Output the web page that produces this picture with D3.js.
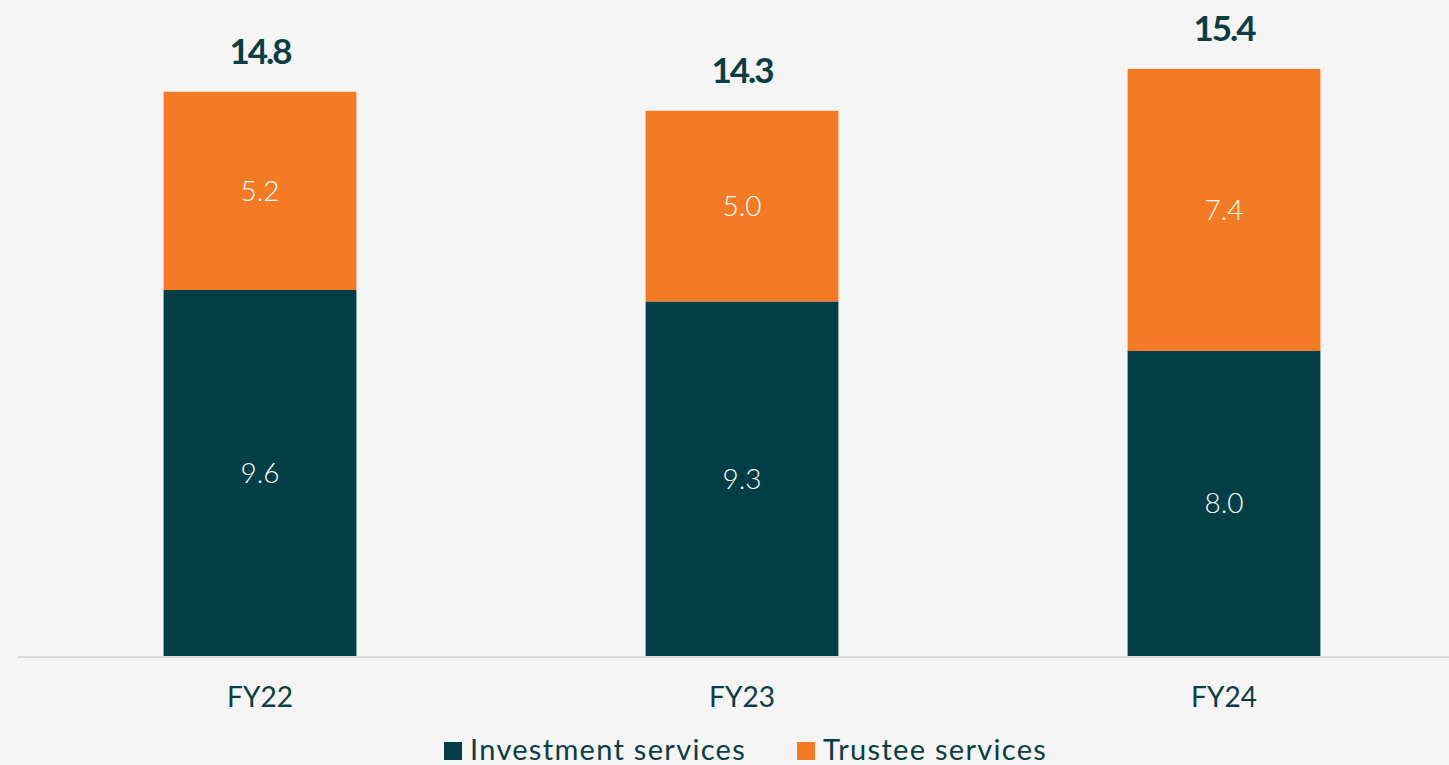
<!DOCTYPE html>
<html>
<head>
<meta charset="utf-8">
<script src="https://cdn.jsdelivr.net/npm/d3@7"></script>
<style>
  html, body { margin: 0; padding: 0; background: #f5f5f5; }
  svg { display: block; font-family: Lato, "Noto Sans", sans-serif; }
</style>
</head>
<body>
<svg id="chart" width="1449" height="765"></svg>
<script>
const categories = ["FY22", "FY23", "FY24"];
const seriesNames = ["Investment services", "Trustee services"];
const investment = [9.6, 9.3, 8.0];
const trustee = [5.2, 5.0, 7.4];
const totals = [14.8, 14.3, 15.4];
const colors = ["#023e46", "#f57a25"];

const svg = d3.select("#chart");
const W = 1449, H = 765;
svg.append("rect").attr("width", W).attr("height", H).attr("fill", "#f5f5f5");

const x = d3.scaleBand().domain(categories).range([19, 1465]).paddingInner(0.6).paddingOuter(0.3);
const y = d3.scaleLinear().domain([0, 16]).range([656, 46]);

const rows = categories.map((c, i) => ({ cat: c, "Investment services": investment[i], "Trustee services": trustee[i], total: totals[i] }));
const stacked = d3.stack().keys(seriesNames)(rows);

const g = svg.append("g");
stacked.forEach((layer, li) => {
  g.selectAll(null).data(layer).enter().append("rect")
    .attr("x", d => x(d.data.cat))
    .attr("width", x.bandwidth())
    .attr("y", d => y(d[1]))
    .attr("height", d => y(d[0]) - y(d[1]))
    .attr("fill", colors[li]);
  g.selectAll(null).data(layer).enter().append("text")
    .attr("x", d => x(d.data.cat) + x.bandwidth() / 2)
    .attr("y", d => (y(d[0]) + y(d[1])) / 2)
    .attr("dy", "0.35em")
    .attr("text-anchor", "middle")
    .attr("fill", "#ffffff")
    .attr("font-size", 28)
    .attr("font-weight", 300)
    .text(d => (d[1] - d[0]).toFixed(1));
});

// totals
g.selectAll(null).data(rows).enter().append("text")
  .attr("x", d => x(d.cat) + x.bandwidth() / 2)
  .attr("y", d => y(d.total) - 40)
  .attr("dy", "0.35em")
  .attr("text-anchor", "middle")
  .attr("fill", "#0b3d44")
  .attr("font-size", 35)
  .attr("font-weight", 700)
  .attr("letter-spacing", -2)
  .text(d => d.total.toFixed(1));

// x axis
const xAxis = d3.axisBottom(x).tickSize(0).tickPadding(0);
const ax = svg.append("g").attr("transform", "translate(0,656)").call(xAxis);
ax.select(".domain").remove();
svg.append("line").attr("x1", 18).attr("x2", W).attr("y1", 657).attr("y2", 657)
  .attr("stroke", "#d9d9d9").attr("stroke-width", 2);
ax.selectAll("text")
  .attr("y", 41)
  .attr("dy", "0.35em")
  .attr("font-size", 28)
  .attr("font-family", "Lato, 'Noto Sans', sans-serif")
  .attr("fill", "#0b3d44");

// legend
const legendItems = [
  { name: seriesNames[0], color: colors[0], x: 444 },
  { name: seriesNames[1], color: colors[1], x: 797 }
];
const lg = svg.append("g");
legendItems.forEach(it => {
  lg.append("rect").attr("x", it.x).attr("y", 742).attr("width", 18).attr("height", 18).attr("fill", it.color);
  lg.append("text").attr("x", it.x + 26).attr("y", 750).attr("dy", "0.35em")
    .attr("font-size", 29).attr("letter-spacing", 1.3).attr("fill", "#0b3d44").text(it.name);
});
</script>
</body>
</html>
